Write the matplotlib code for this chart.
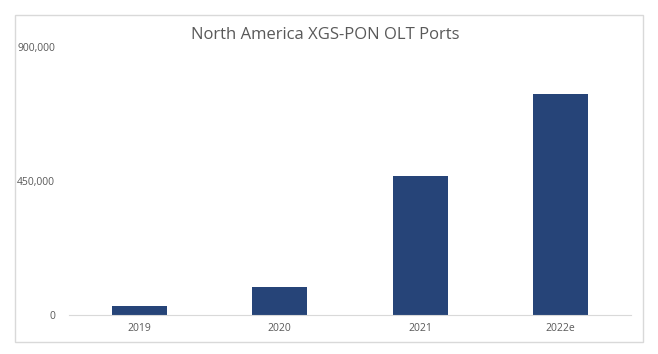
import matplotlib.pyplot as plt
from matplotlib.patches import Rectangle
from matplotlib.ticker import FuncFormatter

years = ['2019', '2020', '2021', '2022e']
ports = [30000, 93000, 467000, 742000]
y_ticks = [0, 450000, 900000]

plt.rcParams['font.family'] = ['Open Sans', 'DejaVu Sans']

fig = plt.figure(figsize=(6.58, 3.54), dpi=100)
ax = fig.add_axes([69 / 658, 1 - 315 / 354, 562 / 658, 268 / 354])

# outer chart border
fig.patches.append(Rectangle((15 / 658, 1 - 342 / 354), 628 / 658, 327 / 354,
                             transform=fig.transFigure, fill=False,
                             edgecolor='#d9d9d9', linewidth=1))

ax.bar(years, ports, width=0.39, color='#264478')
ax.set_xlim(-0.5, len(years) - 0.5)
ax.set_ylim(0, 900000)
ax.set_yticks(y_ticks)
ax.yaxis.set_major_formatter(FuncFormatter(lambda v, p: f'{int(v):,}'))

for side in ['top', 'right', 'left']:
    ax.spines[side].set_visible(False)
ax.spines['bottom'].set_color('#d9d9d9')
ax.tick_params(axis='both', length=0, labelsize=7.5, labelcolor='#595959')
ax.tick_params(axis='y', pad=10)
ax.tick_params(axis='x', pad=6)

fig.text(0.495, 1 - 35 / 354, 'North America XGS-PON OLT Ports',
         ha='center', va='center', fontsize=12, color='#595959')

fig.savefig('out.png', dpi=100)
